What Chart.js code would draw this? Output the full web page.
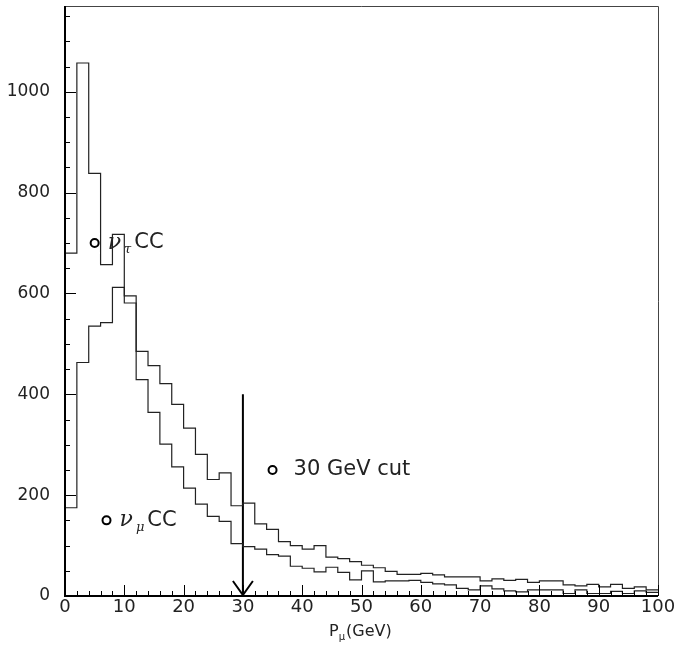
<!DOCTYPE html>
<html>
<head>
<meta charset="utf-8">
<script src="https://cdn.jsdelivr.net/npm/chart.js@4.4.1/dist/chart.umd.min.js"></script>
<style>
	html, body { margin: 0; padding: 0; background: #fff; }
	#wrap { width: 675px; height: 646px; }
</style>
</head>
<body>
<div id="wrap"><canvas id="hist-pmu"></canvas></div>
<script>
// lower edges of the 2 GeV bins
var binLow = [0, 2, 4, 6, 8, 10, 12, 14, 16, 18, 20, 22, 24, 26, 28, 30, 32, 34, 36, 38,
	40, 42, 44, 46, 48, 50, 52, 54, 56, 58, 60, 62, 64, 66, 68, 70, 72, 74, 76, 78,
	80, 82, 84, 86, 88, 90, 92, 94, 96, 98];
var binHigh = 100;

// nu_tau CC
var nuTau = [680, 1057, 838, 657, 717, 581, 429, 364, 301, 256,
	214, 182, 158, 148, 104, 98, 93, 82, 79, 59,
	55, 48, 57, 47, 32, 50, 28, 30, 30, 31,
	27, 24, 22, 15, 12, 20, 14, 10, 8, 12,
	12, 12, 5, 12, 5, 5, 9, 5, 10, 7];

// nu_mu CC
var nuMu = [175, 463, 535, 542, 612, 595, 485, 457, 421, 380,
	333, 281, 231, 244, 179, 184, 143, 132, 108, 100,
	93, 100, 77, 74, 68, 61, 56, 49, 43, 43,
	45, 42, 38, 38, 38, 30, 34, 31, 33, 27,
	30, 30, 22, 20, 23, 18, 23, 15, 18, 12];

var xTicks = [0, 10, 20, 30, 40, 50, 60, 70, 80, 90, 100];
var yTicks = [0, 200, 400, 600, 800, 1000];
var yMax = 1170;

var cutX = 30;
var cutTop = 400;

var labelPts = [{x: 5, y: 700}, {x: 7, y: 150}, {x: 35, y: 250}];

function stepPoints(vals) {
	var pts = binLow.map(function(x, i) { return {x: x, y: vals[i]}; });
	pts.push({x: binHigh, y: vals[vals.length - 1]});
	return pts;
}

var paperPlugin = {
	id: 'paper',
	afterDatasetsDraw: function(chart) {
		var ctx = chart.ctx;
		var xs = chart.scales.x, ys = chart.scales.y;
		var a = chart.chartArea;
		ctx.save();

		// frame: thin top/right, heavy left/bottom
		ctx.strokeStyle = '#444';
		ctx.lineWidth = 1;
		ctx.beginPath();
		ctx.moveTo(a.left, a.top + 0.5);
		ctx.lineTo(a.right + 0.5, a.top + 0.5);
		ctx.lineTo(a.right + 0.5, a.bottom);
		ctx.stroke();

		ctx.strokeStyle = '#000';
		ctx.lineWidth = 2;
		ctx.beginPath();
		ctx.moveTo(a.left, a.top);
		ctx.lineTo(a.left, a.bottom);
		ctx.lineTo(a.right, a.bottom);
		ctx.stroke();

		// inward ticks
		ctx.lineWidth = 1;
		ctx.beginPath();
		var edges = binLow.concat([binHigh]);
		edges.forEach(function(v) {
			var px = Math.round(xs.getPixelForValue(v)) + 0.5;
			var len = (v % 10 === 0) ? 11 : 5;
			ctx.moveTo(px, a.bottom);
			ctx.lineTo(px, a.bottom - len);
		});
		for (var v = 0; v <= yMax; v += 50) {
			var py = Math.round(ys.getPixelForValue(v)) + 0.5;
			var len = (v % 200 === 0) ? 11 : 5;
			ctx.moveTo(a.left, py);
			ctx.lineTo(a.left + len, py);
		}
		ctx.stroke();

		// arrow head of the cut
		var ax = xs.getPixelForValue(cutX), ay = ys.getPixelForValue(0);
		ctx.lineWidth = 2;
		ctx.beginPath();
		ctx.moveTo(ax - 10, ay - 15);
		ctx.lineTo(ax, ay - 1);
		ctx.lineTo(ax + 10, ay - 15);
		ctx.stroke();

		// labels
		ctx.fillStyle = '#222';
		ctx.textBaseline = 'middle';
		function nuLabel(pt, sub) {
			var x = xs.getPixelForValue(pt.x) + 13;
			var y = ys.getPixelForValue(pt.y);
			ctx.font = 'italic 22px "DejaVu Serif"';
			ctx.fillText('\u03bd', x, y);
			x += ctx.measureText('\u03bd').width + 3;
			ctx.font = 'italic 13px "DejaVu Serif"';
			ctx.fillText(sub, x, y + 7);
			x += ctx.measureText(sub).width + 3;
			ctx.font = '21px "DejaVu Sans"';
			ctx.fillText('CC', x, y);
		}
		nuLabel(labelPts[0], '\u03c4');
		nuLabel(labelPts[1], '\u03bc');
		ctx.font = '21px "DejaVu Sans"';
		ctx.fillText('30 GeV cut', xs.getPixelForValue(labelPts[2].x) + 21, ys.getPixelForValue(labelPts[2].y));

		// x axis title P_mu(GeV)
		ctx.font = '16px "DejaVu Sans"';
		var tx = 329, ty = 632;
		ctx.fillText('P', tx, ty);
		tx += ctx.measureText('P').width;
		ctx.font = '10px "DejaVu Sans"';
		ctx.fillText('\u03bc', tx, ty + 5);
		tx += ctx.measureText('\u03bc').width + 1;
		ctx.font = '16px "DejaVu Sans"';
		ctx.fillText('(GeV)', tx, ty);

		ctx.restore();
	}
};

new Chart(document.getElementById('hist-pmu'), {
	type: 'line',
	data: {
		datasets: [{
			label: 'nu_tau CC',
			data: stepPoints(nuTau),
			stepped: 'before',
			borderColor: '#222',
			borderWidth: 1.2,
			pointRadius: 0,
			fill: false
		}, {
			label: 'nu_mu CC',
			data: stepPoints(nuMu),
			stepped: 'before',
			borderColor: '#222',
			borderWidth: 1.2,
			pointRadius: 0,
			fill: false
		}, {
			label: 'cut',
			data: [{x: cutX, y: cutTop}, {x: cutX, y: 0}],
			borderColor: '#000',
			borderWidth: 2,
			pointRadius: 0,
			fill: false
		}, {
			label: 'markers',
			type: 'scatter',
			data: labelPts,
			pointStyle: 'circle',
			pointRadius: 4,
			borderWidth: 2,
			borderColor: '#000',
			backgroundColor: '#fff'
		}]
	},
	options: {
		responsive: true,
		maintainAspectRatio: false,
		animation: false,
		events: [],
		layout: {padding: {top: 4, right: 17, left: 0, bottom: 0}},
		plugins: {
			legend: {display: false},
			tooltip: {enabled: false},
			title: {display: false}
		},
		scales: {
			x: {
				type: 'linear',
				min: 0,
				max: 100,
				afterBuildTicks: function(s) { s.ticks = xTicks.map(function(v) { return {value: v}; }); },
				afterFit: function(s) { s.height = 50; s.paddingLeft = 0; s.paddingRight = 0; },
				grid: {display: false, drawTicks: false},
				border: {display: false},
				ticks: {
					font: {family: 'DejaVu Sans', size: 18},
					color: '#222',
					padding: 1,
					maxRotation: 0,
					autoSkip: false,
					callback: function(v) { return String(v); }
				}
			},
			y: {
				type: 'linear',
				min: 0,
				max: yMax,
				afterBuildTicks: function(s) { s.ticks = yTicks.map(function(v) { return {value: v}; }); },
				afterFit: function(s) { s.width = 65; s.paddingTop = 0; s.paddingBottom = 0; },
				grid: {display: false, drawTicks: false},
				border: {display: false},
				ticks: {
					font: {family: 'DejaVu Sans', size: 17},
					color: '#222',
					padding: 15,
					callback: function(v) { return String(v); }
				}
			}
		}
	},
	plugins: [paperPlugin]
});
</script>
</body>
</html>
